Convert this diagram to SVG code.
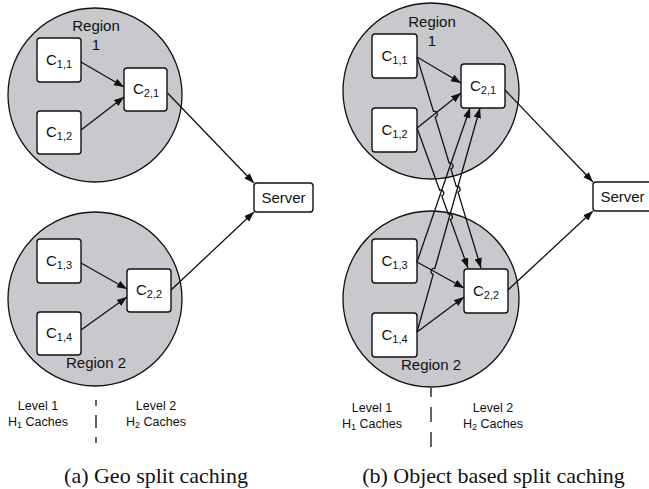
<svg xmlns="http://www.w3.org/2000/svg" width="649" height="489" viewBox="0 0 649 489">
  <style>
    .region { fill: #c8c8cd; stroke: #111; stroke-width: 1.3; }
    .box { fill: #fff; stroke: #111; stroke-width: 1.4; }
    .lbl { font-family: "Liberation Sans", Arial, sans-serif; font-size: 15px; fill: #111; text-anchor: middle; }
    .sub { font-size: 11px; }
    .small { font-family: "Liberation Sans", Arial, sans-serif; font-size: 12.5px; fill: #111; text-anchor: middle; }
    .cap { font-family: "Liberation Serif", "Times New Roman", serif; font-size: 22px; fill: #111; text-anchor: middle; }
    .edge { fill: none; stroke: #111; stroke-width: 1.3; marker-end: url(#arrow); }
    .divider { stroke: #111; stroke-width: 1.3; }
  </style>
  <defs>
    <marker id="arrow" markerUnits="userSpaceOnUse" markerWidth="11" markerHeight="8" refX="10" refY="3.75" orient="auto">
      <path d="M0,0 L10,3.75 L0,7.5 z" fill="#111"/>
    </marker>
  </defs>
  <rect width="649" height="489" fill="#fff"/>

  <!-- (a) Geo split caching -->
  <g id="a-region1">
    <circle class="region" cx="95" cy="95" r="87"/>
    <text class="lbl" x="96" y="31" font-size="16">Region</text>
    <text class="lbl" x="96" y="50">1</text>
  </g>
  <g id="a-region2">
    <circle class="region" cx="95" cy="299" r="87"/>
    <text class="lbl" x="96" y="368" font-size="16">Region 2</text>
  </g>
  <g id="a-c11"><rect class="box" x="37" y="38" width="44" height="44" rx="3"/><text class="lbl" x="59" y="65">C<tspan class="sub" dy="3">1,1</tspan></text></g>
  <g id="a-c12"><rect class="box" x="37" y="111" width="44" height="43" rx="3"/><text class="lbl" x="59" y="137">C<tspan class="sub" dy="3">1,2</tspan></text></g>
  <g id="a-c21"><rect class="box" x="124" y="68" width="43" height="43" rx="3"/><text class="lbl" x="146" y="94">C<tspan class="sub" dy="3">2,1</tspan></text></g>
  <g id="a-c13"><rect class="box" x="37" y="239" width="44" height="44" rx="3"/><text class="lbl" x="59" y="266">C<tspan class="sub" dy="3">1,3</tspan></text></g>
  <g id="a-c14"><rect class="box" x="37" y="312" width="44" height="43" rx="3"/><text class="lbl" x="59" y="338">C<tspan class="sub" dy="3">1,4</tspan></text></g>
  <g id="a-c22"><rect class="box" x="127" y="269" width="44" height="43" rx="3"/><text class="lbl" x="149" y="295">C<tspan class="sub" dy="3">2,2</tspan></text></g>
  <g id="a-server"><rect class="box" x="254" y="183" width="59" height="29" rx="3"/><text class="lbl" x="283.5" y="203">Server</text></g>

  <g id="a-connectors">
    <path class="edge" d="M81,62 L124,87"/>
    <path class="edge" d="M81,130 L124,97"/>
    <path class="edge" d="M167.5,93 L254,183"/>
    <path class="edge" d="M81,263 L127,289"/>
    <path class="edge" d="M81,330 L127,297"/>
    <path class="edge" d="M171,290 L254,212"/>
  </g>

  <g id="a-levels">
    <text class="small" x="38" y="410">Level 1</text>
    <text class="small" x="38" y="426">H<tspan font-size="9" dy="2">1</tspan><tspan dy="-2"> Caches</tspan></text>
    <text class="small" x="156" y="410">Level 2</text>
    <text class="small" x="156" y="426">H<tspan font-size="9" dy="2">2</tspan><tspan dy="-2"> Caches</tspan></text>
    <line class="divider" x1="96" y1="400" x2="96" y2="443" stroke-dasharray="13 9" stroke-dashoffset="7"/>
  </g>
  <text class="cap" x="156" y="483">(a) Geo split caching</text>

  <!-- (b) Object based split caching -->
  <g id="b-region1">
    <circle class="region" cx="431" cy="91" r="88"/>
    <text class="lbl" x="432" y="27" font-size="16">Region</text>
    <text class="lbl" x="432" y="46">1</text>
  </g>
  <g id="b-region2">
    <circle class="region" cx="431" cy="299" r="88"/>
    <text class="lbl" x="431" y="370" font-size="16">Region 2</text>
  </g>
  <g id="b-c11"><rect class="box" x="372" y="34" width="45" height="44" rx="3"/><text class="lbl" x="394.5" y="61">C<tspan class="sub" dy="3">1,1</tspan></text></g>
  <g id="b-c12"><rect class="box" x="372" y="108" width="45" height="44" rx="3"/><text class="lbl" x="394.5" y="135">C<tspan class="sub" dy="3">1,2</tspan></text></g>
  <g id="b-c21"><rect class="box" x="461" y="64" width="44" height="44" rx="3"/><text class="lbl" x="483" y="91">C<tspan class="sub" dy="3">2,1</tspan></text></g>
  <g id="b-c13"><rect class="box" x="372" y="239" width="45" height="44" rx="3"/><text class="lbl" x="394.5" y="266">C<tspan class="sub" dy="3">1,3</tspan></text></g>
  <g id="b-c14"><rect class="box" x="372" y="313" width="45" height="44" rx="3"/><text class="lbl" x="394.5" y="340">C<tspan class="sub" dy="3">1,4</tspan></text></g>
  <g id="b-c22"><rect class="box" x="464" y="269" width="44" height="44" rx="3"/><text class="lbl" x="486" y="296">C<tspan class="sub" dy="3">2,2</tspan></text></g>
  <g id="b-server"><rect class="box" x="593" y="182" width="59" height="29" rx="3"/><text class="lbl" x="622.5" y="202">Server</text></g>

  <g id="b-connectors">
    <!-- within-region links -->
    <path class="edge" d="M417,57 L461,83"/>
    <path class="edge" d="M417,128 L461,93"/>
    <path class="edge" d="M417,262 L464,288"/>
    <path class="edge" d="M417,332 L464,297"/>
    <!-- cross-region links, with line hops at crossings -->
    <path class="edge" d="M417,57 L433.48,111.33 A3,3 0 0 1 435.22,117.07 L449.18,163.09 A3,3 0 0 1 450.92,168.83 L456.26,186.43 A3,3 0 0 1 458,192.17 L481,268"/>
    <path class="edge" d="M417,128 L439.68,190.28 A3,3 0 0 1 441.74,195.92 L448.35,214.06 A3,3 0 0 1 450.41,219.7 L468,268"/>
    <path class="edge" d="M417,262 L470,108"/>
    <path class="edge" d="M417,332 L433.23,274.31 A3,3 0 0 1 434.85,268.53 L480,108"/>
    <!-- uplinks to server -->
    <path class="edge" d="M505,90 L593,182"/>
    <path class="edge" d="M508,290 L593,211"/>
  </g>

  <g id="b-levels">
    <text class="small" x="372" y="412">Level 1</text>
    <text class="small" x="372" y="428">H<tspan font-size="9" dy="2">1</tspan><tspan dy="-2"> Caches</tspan></text>
    <text class="small" x="493" y="412">Level 2</text>
    <text class="small" x="493" y="428">H<tspan font-size="9" dy="2">2</tspan><tspan dy="-2"> Caches</tspan></text>
    <line class="divider" x1="431" y1="388" x2="431" y2="447" stroke-dasharray="15 10" stroke-dashoffset="6"/>
  </g>
  <text class="cap" x="493.5" y="483">(b) Object based split caching</text>
</svg>
